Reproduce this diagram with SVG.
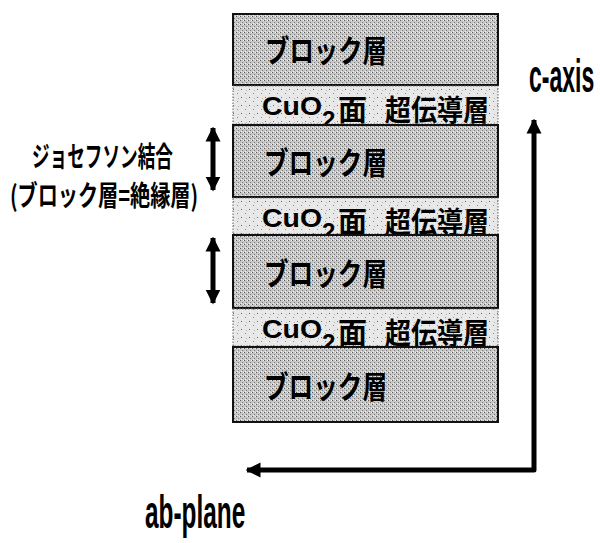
<svg xmlns="http://www.w3.org/2000/svg" width="600" height="543" viewBox="0 0 600 543">
<defs>
<pattern id="blk" width="4" height="4" patternUnits="userSpaceOnUse">
<rect width="4" height="4" fill="#c6c6c6"/>
<rect x="0" y="0" width="1" height="1" fill="#5a5a5a"/>
<rect x="2" y="2" width="1" height="1" fill="#808080"/>
<rect x="3" y="0" width="1" height="1" fill="#eeeeee"/>
<rect x="1" y="3" width="1" height="1" fill="#f2f2f2"/>
</pattern>
<pattern id="cuo" width="8" height="8" patternUnits="userSpaceOnUse">
<rect width="8" height="8" fill="#e8e8e8"/>
<rect x="1" y="1" width="1" height="1" fill="#707070"/>
<rect x="5" y="5" width="1" height="1" fill="#909090"/>
<rect x="6" y="2" width="1" height="1" fill="#b0b0b0"/>
<rect x="2" y="6" width="1" height="1" fill="#fafafa"/>
</pattern>
<marker id="ah" viewBox="0 0 10 10" refX="9" refY="5" markerWidth="3" markerHeight="3.2" orient="auto-start-reverse" markerUnits="strokeWidth">
<path d="M0,0 L10,5 L0,10 Z" fill="#000"/>
</marker>
</defs>
<style>
.blk{fill:url(#blk);stroke:#111;stroke-width:2}
.cuo{fill:url(#cuo);stroke:#777;stroke-width:1.2;stroke-dasharray:1.5 1.5}
.jp{font-family:"Noto Sans CJK JP","Noto Sans CJK SC",sans-serif;font-weight:bold;fill:#000}
.lt{font-family:"Liberation Sans",Arial,sans-serif;font-weight:bold;fill:#000}
.ax{fill:none;stroke:#000;stroke-width:5}
</style>

<g id="block1"><rect class="blk" x="233" y="14" width="265" height="71"/><text class="jp" x="265" y="48" font-size="31" textLength="122" lengthAdjust="spacingAndGlyphs" dominant-baseline="central">ブロック層</text></g>
<g id="cuo2-1"><rect class="cuo" x="233" y="86" width="265" height="38"/><text class="lt" x="262" y="115" font-size="26" textLength="60" lengthAdjust="spacingAndGlyphs">CuO</text><text class="lt" x="322" y="128" font-size="24">2</text><text class="jp" x="338" y="108" font-size="29" dominant-baseline="central">面</text><text class="jp" x="385" y="108" font-size="29" textLength="104" lengthAdjust="spacingAndGlyphs" dominant-baseline="central">超伝導層</text></g>
<g id="block2"><rect class="blk" x="233" y="125" width="265" height="72"/><text class="jp" x="264" y="160" font-size="31" textLength="123" lengthAdjust="spacingAndGlyphs" dominant-baseline="central">ブロック層</text></g>
<g id="cuo2-2"><rect class="cuo" x="233" y="198" width="265" height="36"/><text class="lt" x="262" y="227" font-size="26" textLength="60" lengthAdjust="spacingAndGlyphs">CuO</text><text class="lt" x="322" y="240" font-size="24">2</text><text class="jp" x="338" y="220" font-size="29" dominant-baseline="central">面</text><text class="jp" x="385" y="220" font-size="29" textLength="104" lengthAdjust="spacingAndGlyphs" dominant-baseline="central">超伝導層</text></g>
<g id="block3"><rect class="blk" x="233" y="235" width="265" height="73"/><text class="jp" x="264" y="271" font-size="31" textLength="123" lengthAdjust="spacingAndGlyphs" dominant-baseline="central">ブロック層</text></g>
<g id="cuo2-3"><rect class="cuo" x="233" y="309" width="265" height="37"/><text class="lt" x="262" y="338" font-size="26" textLength="60" lengthAdjust="spacingAndGlyphs">CuO</text><text class="lt" x="322" y="351" font-size="24">2</text><text class="jp" x="338" y="331" font-size="29" dominant-baseline="central">面</text><text class="jp" x="385" y="331" font-size="29" textLength="104" lengthAdjust="spacingAndGlyphs" dominant-baseline="central">超伝導層</text></g>
<g id="block4"><rect class="blk" x="233" y="347" width="265" height="75"/><text class="jp" x="264" y="384" font-size="31" textLength="123" lengthAdjust="spacingAndGlyphs" dominant-baseline="central">ブロック層</text></g>

<g id="josephson-label">
<text class="jp" x="32" y="155" font-size="28" textLength="141" lengthAdjust="spacingAndGlyphs" dominant-baseline="central" font-weight="500">ジョセフソン結合</text>
<text class="jp" x="10" y="194" font-size="28" textLength="188" lengthAdjust="spacingAndGlyphs" dominant-baseline="central" font-weight="500">(ブロック層=絶縁層)</text>
</g>

<g id="c-axis-label"><text class="lt" transform="translate(529,92) scale(0.5,1)" x="0" y="0" font-size="46">c-axis</text></g>
<g id="ab-plane-label"><text class="lt" transform="translate(145,528) scale(0.53,1)" x="0" y="0" font-size="46">ab-plane</text></g>

<g id="connectors">
<line class="ax" x1="213" y1="128" x2="213" y2="190" marker-start="url(#ah)" marker-end="url(#ah)"/>
<line class="ax" x1="213" y1="238" x2="213" y2="303" marker-start="url(#ah)" marker-end="url(#ah)"/>
<polyline class="ax" points="534,120 534,470 247,470" marker-start="url(#ah)" marker-end="url(#ah)" stroke-linejoin="round"/>
</g>
</svg>
